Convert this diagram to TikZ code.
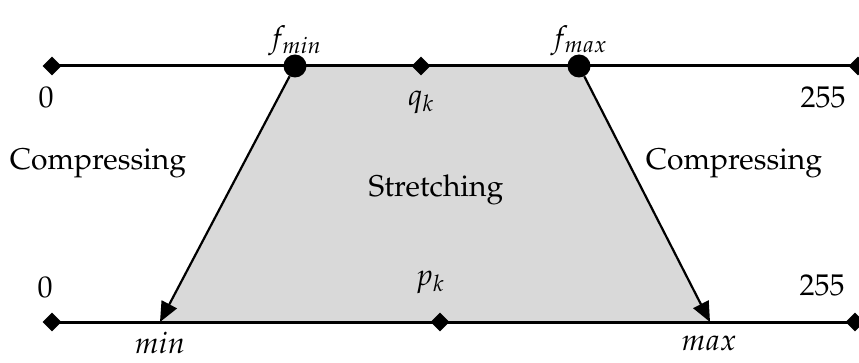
\documentclass[tikz,border=0pt]{standalone}
\usepackage[T1]{fontenc}
\usepackage{mathpazo}
\usetikzlibrary{shapes.geometric,arrows.meta}
\definecolor{regiongray}{HTML}{D9D9D9}
\begin{document}
\begin{tikzpicture}[x=1pt,y=-1pt,
  dia/.style={diamond,fill=black,inner sep=0pt,minimum width=19pt,minimum height=19pt},
  dot/.style={circle,fill=black,inner sep=0pt,minimum size=23pt},
  axis/.style={line width=3pt},
  arr/.style={line width=2.2pt,-{Triangle[length=20pt,width=17pt]}},
  lab/.style={font=\fontsize{30}{36}\selectfont,inner sep=0pt}]
\useasboundingbox (0,0) rectangle (859,363);
% shaded region
\fill[regiongray] (295,66) -- (579,66) -- (710,322) -- (160,322) -- cycle;
% top axis
\coordinate (tL) at (52,66);
\coordinate (tR) at (858,66);
\draw[axis] (tL) -- (tR);
% bottom axis
\coordinate (bL) at (52,322);
\coordinate (bR) at (855,322);
\coordinate (minpt) at (160,322);
\coordinate (maxpt) at (710,322);
\draw[axis] (bL) -- (bR);
% markers
\node[dia] (d0t) at (tL) {};
\node[dia] (d255t) at (tR) {};
\node[dia] (qkd) at (421,66) {};
\node[dia] (d0b) at (bL) {};
\node[dia] (d255b) at (bR) {};
\node[dia] (pkd) at (440,322) {};
\node[dot] (fmin) at (295,66) {};
\node[dot] (fmax) at (579,66) {};
% arrows
\draw[arr] (fmin) -- (minpt);
\draw[arr] (fmax) -- (maxpt);
% labels
\node[lab] (l0t) at (46,97) {0};
\node[lab] (l255t) at (823,97) {255};
\node[lab] (lfmin) at (295,41) {$f_{min}$};
\node[lab] (lfmax) at (579,41) {$f_{max}$};
\node[lab] (lqk) at (421,102) {$q_k$};
\node[lab] (lcl) at (98,163) {Compressing};
\node[lab] (lcr) at (734,163) {Compressing};
\node[lab] (lst) at (436,190) {Stretching};
\node[lab] (l0b) at (45,287) {0};
\node[lab] (l255b) at (822,285) {255};
\node[lab] (lpk) at (430,282) {$p_k$};
\node[lab] (lmin) at (160,343) {$min$};
\node[lab] (lmax) at (709,343) {$max$};
\end{tikzpicture}
\end{document}
